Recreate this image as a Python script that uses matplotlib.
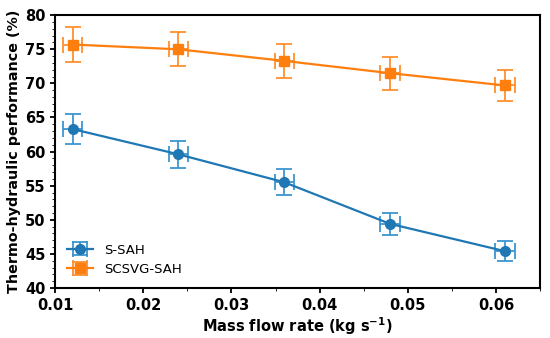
import matplotlib
matplotlib.use('Agg')
import matplotlib.pyplot as plt
from matplotlib.ticker import MultipleLocator

flow = [0.012, 0.024, 0.036, 0.048, 0.061]
s_sah = [63.3, 59.6, 55.5, 49.4, 45.4]
scsvg_sah = [75.7, 75.0, 73.3, 71.5, 69.7]
s_sah_yerr = [2.2, 2.0, 1.9, 1.6, 1.5]
scsvg_yerr = [2.5, 2.5, 2.5, 2.4, 2.3]
flow_err = [0.0011, 0.0011, 0.0011, 0.0011, 0.0011]

plt.rcParams['font.weight'] = 'bold'
plt.rcParams['axes.labelweight'] = 'bold'

fig, ax = plt.subplots(figsize=(5.5, 3.38), dpi=100)
ax.errorbar(flow, s_sah, yerr=s_sah_yerr, xerr=flow_err, color='#1f77b4',
            ecolor='#3a95d0', marker='o', markersize=7, lw=1.6, elinewidth=1.3,
            capsize=6, capthick=1.3, label='S-SAH')
ax.errorbar(flow, scsvg_sah, yerr=scsvg_yerr, xerr=flow_err, color='#ff7f0e',
            ecolor='#ff8f2e', marker='s', markersize=7, lw=1.6, elinewidth=1.3,
            capsize=6, capthick=1.3, label='SCSVG-SAH')

ax.set_xlim(0.01, 0.065)
ax.set_ylim(40, 80)
ax.xaxis.set_major_locator(MultipleLocator(0.01))
ax.xaxis.set_minor_locator(MultipleLocator(0.005))
ax.yaxis.set_major_locator(MultipleLocator(5))
ax.yaxis.set_minor_locator(MultipleLocator(1))
ax.tick_params(labelsize=10.5, width=1.3)
ax.tick_params(which='minor', length=2.5)
for sp in ax.spines.values():
    sp.set_linewidth(1.5)
ax.set_xlabel('Mass flow rate (kg s$^{-1}$)', fontsize=10.5, labelpad=2)
ax.set_ylabel('Thermo-hydraulic performance (%)', fontsize=10.3, labelpad=3)
ax.legend(loc='lower left', frameon=False, prop={'size': 9.5, 'weight': 'normal'})
fig.subplots_adjust(left=0.1, right=0.982, top=0.955, bottom=0.148)
fig.savefig('out.png')
